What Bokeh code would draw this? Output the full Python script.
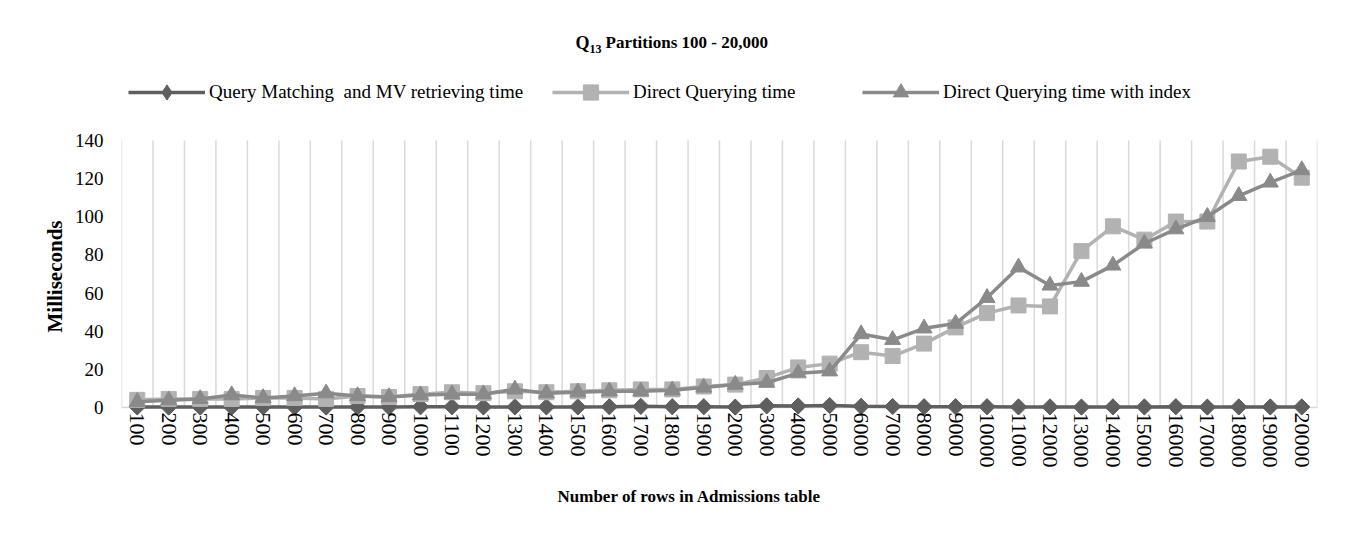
import math
from bokeh.plotting import figure
from bokeh.models import Range1d, FixedTicker, Legend, LegendItem, Label, Title
from bokeh.embed import file_html
from bokeh.resources import INLINE

# ---- data ----
rows = ["100", "200", "300", "400", "500", "600", "700", "800", "900", "1000",
        "1100", "1200", "1300", "1400", "1500", "1600", "1700", "1800", "1900", "2000",
        "3000", "4000", "5000", "6000", "7000", "8000", "9000", "10000", "11000", "12000",
        "13000", "14000", "15000", "16000", "17000", "18000", "19000", "20000"]

query_matching = [0.3, 0.2, 0.2, 0.2, 0.3, 0.2, 0.2, 0.3, 0.2, 0.4,
                  0.4, 0.3, 0.3, 0.3, 0.3, 0.4, 0.6, 0.4, 0.4, 0.2,
                  0.9, 0.8, 1.0, 0.6, 0.5, 0.4, 0.4, 0.4, 0.3, 0.3,
                  0.2, 0.3, 0.3, 0.4, 0.2, 0.3, 0.3, 0.3]

direct_querying = [4, 4.5, 4.5, 4.5, 5, 5, 4.5, 6, 5.5, 7,
                   8, 7.5, 8.5, 8, 8.5, 9, 9.5, 9.5, 11, 12,
                   15.5, 21, 23, 29, 27, 33.5, 42, 49.5, 53.5, 53,
                   82, 95, 88, 97.5, 97.5, 129, 131.5, 120.5]

direct_querying_index = [3, 3.8, 4.5, 6.5, 5, 6, 7.5, 6, 5.5, 6.5,
                         7, 7, 9.5, 7.5, 8, 8.5, 8.5, 9, 10.5, 12,
                         13, 18, 19, 38.5, 35.5, 41.5, 44, 57.5, 73.5, 64,
                         66, 74.5, 86, 93.5, 100, 111, 118, 124.5]

y_ticks = [0, 20, 40, 60, 80, 100, 120, 140]

series_names = ["Query Matching  and MV retrieving time",
                "Direct Querying time",
                "Direct Querying time with index"]

# ---- styling ----
FONT = "Liberation Serif"
C_QM = "#5f5f5f"
C_DQ = "#b2b2b2"
C_DQI = "#8a8a8a"
GRID = "#d9d9d9"

W, H = 1350, 540
F_LEFT, F_RIGHT, F_BOTTOM = 121, 1317, 415
PX_PER_UNIT = 267 / 140.0

xs = [i + 0.5 for i in range(len(rows))]

p = figure(width=W, height=H, output_backend="svg", toolbar_location=None,
           x_range=Range1d(0, len(rows)),
           y_range=Range1d(-(F_BOTTOM - 407) / PX_PER_UNIT, 407 / PX_PER_UNIT),
           min_border_left=F_LEFT, min_border_right=W - F_RIGHT, min_border_top=0,
           min_border_bottom=H - F_BOTTOM)
p.outline_line_color = None
p.background_fill_color = "white"
p.border_fill_color = "white"
p.styles = {"outline": "1px solid #d9d9d9", "outline-offset": "-2px"}

p.xgrid.visible = False
p.ygrid.visible = False

# vertical gridlines at category boundaries, plus the category-axis baseline
bounds = list(range(len(rows) + 1))
p.segment(x0=bounds, y0=[0] * len(bounds), x1=bounds, y1=[y_ticks[-1]] * len(bounds),
          line_color=GRID, line_width=1.5)
p.segment(x0=[0], y0=[0], x1=[len(rows)], y1=[0], line_color=GRID, line_width=1.5)

# series
l1 = p.line(xs, query_matching, line_color=C_QM, line_width=3.5)
# narrow diamond, fully hidden beneath the rotated squares; used for the legend swatch
m1_legend = p.scatter(xs, query_matching, marker="diamond", size=15,
                      fill_color=C_QM, line_color=C_QM)
m1 = p.scatter(xs, query_matching, marker="square", angle=math.pi / 4, size=11.5,
               fill_color=C_QM, line_color=C_QM)
l2 = p.line(xs, direct_querying, line_color=C_DQ, line_width=3.5)
m2 = p.scatter(xs, direct_querying, marker="square", size=15,
               fill_color=C_DQ, line_color=C_DQ)
l3 = p.line(xs, direct_querying_index, line_color=C_DQI, line_width=3.5)
m3 = p.scatter(xs, direct_querying_index, marker="triangle", size=16,
               fill_color=C_DQI, line_color=C_DQI)

# axes
ya = p.yaxis[0]
ya.ticker = FixedTicker(ticks=y_ticks)
ya.axis_line_color = None
ya.major_tick_line_color = None
ya.minor_tick_line_color = None
ya.major_tick_out = 0
ya.major_tick_in = 0
ya.major_label_text_font = FONT
ya.major_label_text_font_size = "19px"
ya.major_label_text_color = "black"
ya.major_label_standoff = 18

p.add_layout(Title(text="Milliseconds", align="left", offset=F_BOTTOM - 332,
                   text_font=FONT, text_font_size="21px", text_font_style="bold",
                   text_color="black", standoff=10), "left")

xa = p.xaxis[0]
xa.ticker = FixedTicker(ticks=xs)
xa.major_label_overrides = {x: r for x, r in zip(xs, rows)}
xa.major_label_orientation = "vertical"
xa.axis_line_color = None
xa.major_tick_line_color = None
xa.minor_tick_line_color = None
xa.major_tick_out = 0
xa.major_tick_in = 0
xa.major_label_text_font = FONT
xa.major_label_text_font_size = "22px"
xa.major_label_text_color = "black"
xa.major_label_standoff = -3

p.add_layout(Title(text="Number of rows in Admissions table", align="left", offset=436,
                   text_font=FONT, text_font_size="17px", text_font_style="bold",
                   text_color="black", standoff=29), "below")

# legends (three separately placed entries)
renderers = [[l1, m1_legend], [l2, m2], [l3, m3]]
legend_x = [7, 431, 741]
for name, rs, lx in zip(series_names, renderers, legend_x):
    lg = Legend(items=[LegendItem(label=name, renderers=rs)], location=(lx, F_BOTTOM - 111),
                orientation="horizontal", glyph_width=77, glyph_height=38,
                label_height=20, label_standoff=4, padding=0, margin=0,
                border_line_color=None, background_fill_alpha=0,
                label_text_font=FONT, label_text_font_size="19px",
                label_text_color="black")
    p.add_layout(lg)

# title with subscript (frame-relative screen units)
title_y = F_BOTTOM - 42
q_right = 589 - F_LEFT
p.add_layout(Label(x=q_right, y=title_y, x_units="screen", y_units="screen", text="Q",
                   text_align="right", text_baseline="middle", text_font=FONT,
                   text_font_size="18px", text_font_style="bold", text_color="black"))
p.add_layout(Label(x=q_right, y=title_y - 6, x_units="screen", y_units="screen", text="13",
                   text_align="left", text_baseline="middle", text_font=FONT,
                   text_font_size="12px", text_font_style="bold", text_color="black"))
p.add_layout(Label(x=q_right + 16, y=title_y, x_units="screen", y_units="screen",
                   text="Partitions 100 - 20,000",
                   text_align="left", text_baseline="middle", text_font=FONT,
                   text_font_size="17px", text_font_style="bold", text_color="black"))

open("out.html", "w").write(file_html(p, INLINE))
